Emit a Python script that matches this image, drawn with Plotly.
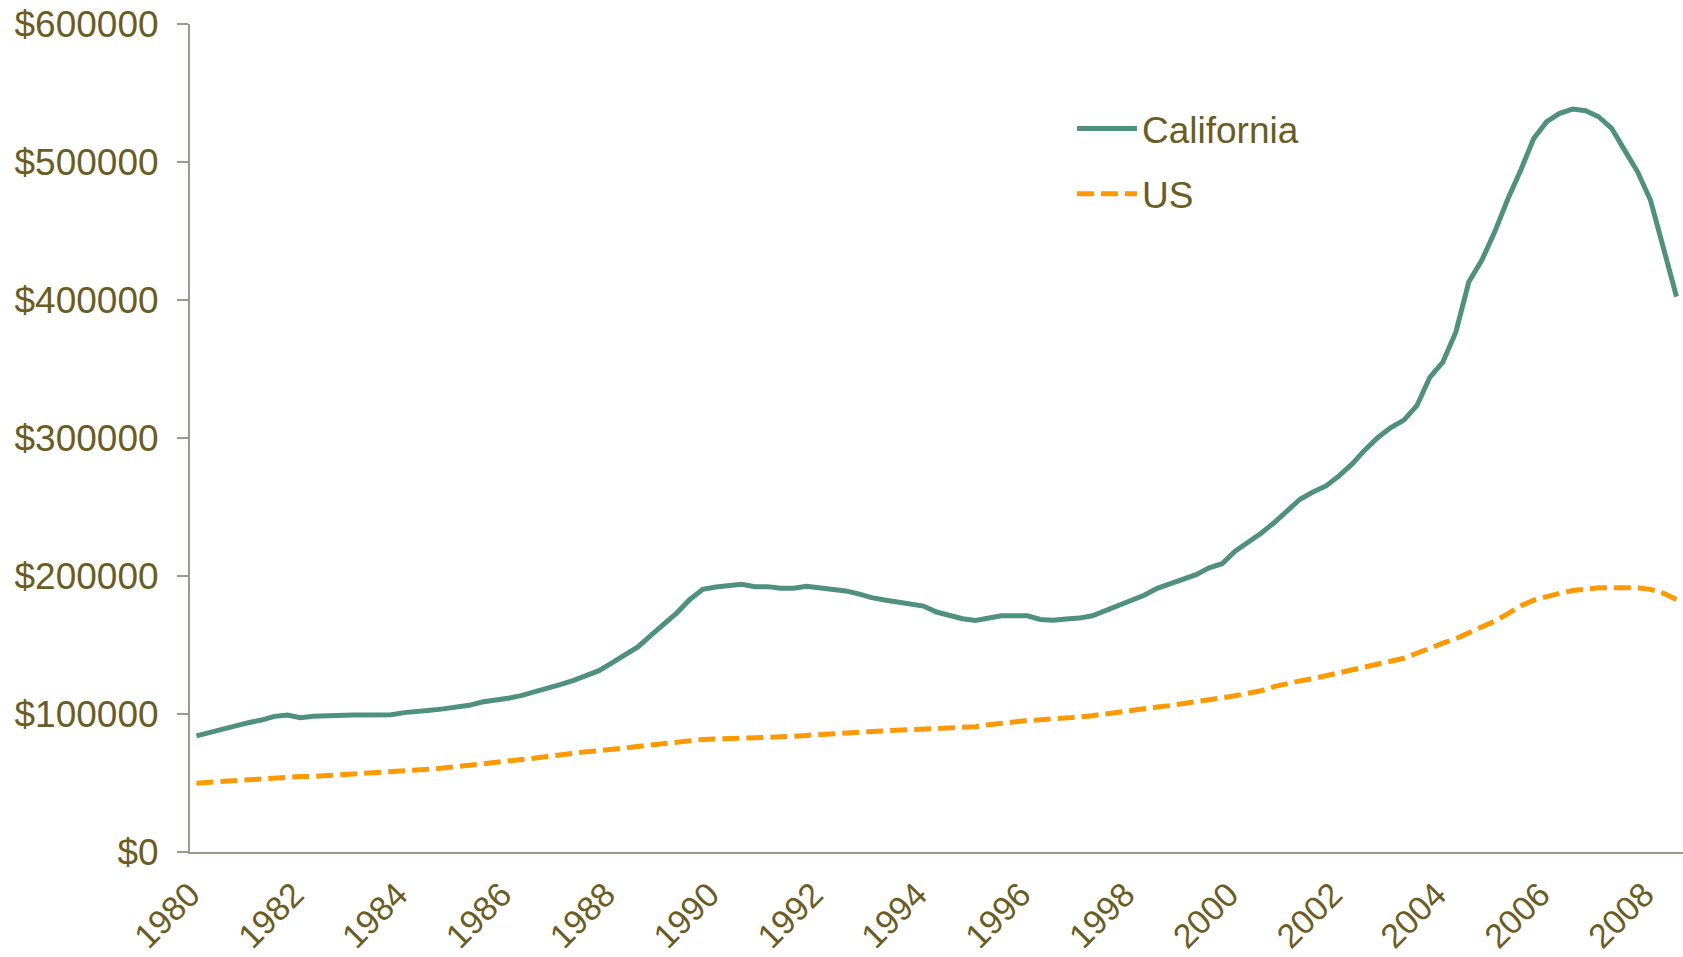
import plotly.graph_objects as go

# Quarterly categories, 1980 Q1 .. 2008 Q3 (plotted at mid-quarter, in decimal years)
years = list(range(1980, 2009))
quarters = [f"{y} Q{q}" for y in years for q in range(1, 5)][:115]
quarter_pos = [y + (q - 0.5) / 4 for y in years for q in range(1, 5)][:115]

# Median home prices (USD)
california = [
    84200, 86600, 89800, 91700, 93700, 95600, 98300, 99300, 97300, 98300,
    98800, 98500, 99300, 99300, 99300, 99500, 101000, 101500, 102700, 103700,
    105100, 106300, 108700, 109700, 111400, 113300, 115700, 118400, 121300, 124200,
    127600, 131400, 137000, 142800, 148600, 157000, 164800, 173300, 183000, 190300,
    192000, 192600, 194000, 192300, 192300, 191100, 191100, 192600, 191600, 189700,
    189200, 187000, 184300, 182600, 181200, 180200, 178200, 173900, 171500, 169000,
    167800, 169300, 171200, 171200, 171200, 168500, 168000, 168800, 169500, 171200,
    174800, 178000, 181800, 186000, 191100, 194700, 197600, 201000, 205900, 208900,
    218000, 224100, 231000, 238600, 247000, 255600, 260900, 265300, 272500, 281000,
    291400, 300400, 307600, 313000, 323400, 344000, 354900, 376700, 413000, 428700,
    449400, 473000, 494000, 517000, 529200, 535300, 538400, 537200, 532800, 524400,
    508600, 492900, 472300, 438400, 402500,
]
us = [
    49900, 50500, 51200, 51900, 52600, 53400, 54100, 54600, 54700, 54700,
    55200, 56000, 56600, 57100, 57600, 57900, 58700, 59500, 60100, 60800,
    61700, 62600, 63700, 64700, 65600, 66800, 68000, 69200, 70500, 71500,
    72600, 73400, 74500, 75700, 76600, 77400, 78200, 79400, 81200, 81600,
    81900, 82100, 82200, 82500, 83000, 83400, 83800, 84500, 85200, 85800,
    86500, 86800, 87300, 87800, 88200, 88700, 89200, 89600, 89600, 89600,
    90800, 92200, 93500, 94300, 95300, 95800, 96200, 97000, 97800, 98800,
    100200, 101500, 102800, 103900, 105000, 106100, 107400, 108700, 110600, 111500,
    113200, 115000, 116800, 119800, 122200, 124000, 125600, 127800, 130000, 132200,
    134400, 136600, 138600, 140400, 144000, 147900, 151300, 154600, 158800, 162400,
    167300, 172600, 178300, 182500, 185400, 187500, 189500, 190900, 191500, 191500,
    191500, 191500, 190300, 187500, 183000,
]

tick_years = list(range(1980, 2009, 2))
tick_text = [str(y) for y in tick_years]
y_ticks = [0, 100000, 200000, 300000, 400000, 500000, 600000]
y_ticktext = [f"${v}" for v in y_ticks]

TEXT = "#6B5C24"
AXIS = "#A0988A"
FONT = "Liberation Sans, Arial, sans-serif"

fig = go.Figure()
fig.add_trace(go.Scatter(
    x=quarter_pos, y=california, name="California", mode="lines",
    text=quarters, hovertemplate="%{text}: $%{y}<extra>California</extra>",
    line=dict(color="#4F917C", width=5), legendgroup="ca",
))
fig.add_trace(go.Scatter(
    x=quarter_pos, y=us, name="US", mode="lines",
    text=quarters, hovertemplate="%{text}: $%{y}<extra>US</extra>",
    line=dict(color="#FF9900", width=5, dash="17px,7px"), legendgroup="us",
))

fig.update_layout(
    width=1683, height=957,
    margin=dict(l=190, r=0, t=24, b=105),
    paper_bgcolor="white", plot_bgcolor="white",
    font=dict(family=FONT, size=37, color=TEXT),
    showlegend=True,
    legend=dict(
        x=(1072 - 190) / 1493, y=(852 - 98) / 828, xanchor="left", yanchor="top",
        font=dict(size=37, color=TEXT), bgcolor="rgba(0,0,0,0)",
        tracegroupgap=14, itemwidth=60,
    ),
    xaxis=dict(
        range=[1980, 2008.75], automargin=False,
        tickmode="array", tickvals=tick_years, ticktext=tick_text,
        tickangle=-45, showgrid=False, zeroline=False,
        showline=True, linecolor=AXIS, linewidth=2, ticks="",
        ticklabelstandoff=7, ticklabeloverflow="allow",
        tickfont=dict(size=34, color=TEXT),
    ),
    yaxis=dict(
        range=[0, 600000], tickmode="array", tickvals=y_ticks, ticktext=y_ticktext,
        automargin=False,
        showgrid=False, zeroline=False,
        showline=True, linecolor=AXIS, linewidth=2,
        ticks="outside", ticklen=11, tickcolor=AXIS, tickwidth=2,
        ticklabelstandoff=11, ticklabeloverflow="allow",
        tickfont=dict(size=37, color=TEXT),
    ),
)

# Remove the default page margin so the figure fills the window exactly
fig.write_html(
    "out.html",
    config={"displayModeBar": False},
    post_script="document.body.style.margin='0';",
)
